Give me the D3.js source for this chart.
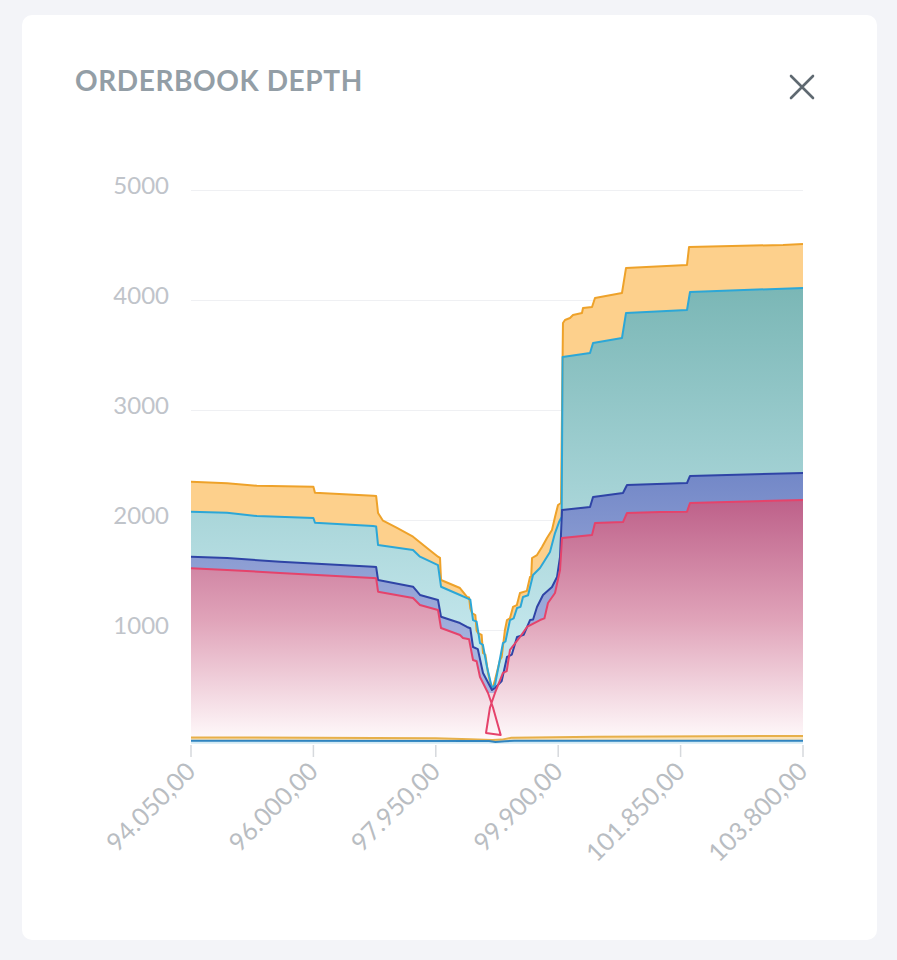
<!DOCTYPE html>
<html><head><meta charset="utf-8">
<script src="https://cdn.jsdelivr.net/npm/d3@7"></script>
<style>
html,body{margin:0;padding:0;background:#f3f4f8;}
svg{display:block;}
</style></head><body>
<svg id="chart" width="897" height="960"></svg>
<script>
const titleText = "ORDERBOOK DEPTH";
const xTicks = [94050, 96000, 97950, 99900, 101850, 103800];
const yTicks = [1000, 2000, 3000, 4000, 5000];

// cumulative depth lines [price, depth]
const orangeLine = [
  [94050,2353],[94625,2338],[95100,2316],[96000,2307],[96025,2253],[96950,2225],[97000,2222],
  [97030,2068],[97109,1998],[97332,1932],[97587,1853],[97810,1750],[97985,1671],[98017,1660],
  [98033,1459],[98335,1386],[98447,1305],[98480,1300],[98500,1200],[98527,1159],[98580,1140],
  [98600,1000],[98622,977],[98680,960],[98702,795],[98740,780],[98782,614],[98845,459],
  [98893,550],[98973,732],[99000,760],[99050,1000],[99084,1095],[99130,1110],[99180,1214],
  [99240,1230],[99291,1341],[99400,1360],[99451,1486],[99470,1490],[99483,1659],
  [99562,1686],[99642,1759],[99721,1841],[99801,1914],[99849,2032],[99897,2141],[99945,2159],
  [99976,3795],[100008,3823],[100088,3841],[100136,3868],[100279,3886],[100295,3932],[100439,3941],
  [100486,4023],[100916,4068],[100980,4295],[101952,4323],[101984,4486],[103482,4505],[103800,4514]
];
const cyanLine = [
  [94050,2080],[94625,2071],[95100,2041],[96000,2023],[96025,1980],[96950,1950],[97000,1945],
  [97030,1777],[97587,1732],[97698,1671],[97985,1595],[98033,1398],[98335,1323],[98447,1295],
  [98500,1280],[98543,1095],[98600,1080],[98654,886],[98700,870],[98766,668],[98845,477],
  [98893,505],[99020,886],[99060,900],[99132,1095],[99190,1110],[99244,1205],[99300,1215],
  [99339,1305],[99420,1320],[99499,1505],[99610,1568],
  [99690,1641],[99769,1714],[99849,1886],[99913,1986],[99955,2032],[99970,3486],[100407,3523],
  [100455,3614],[100916,3659],[100980,3886],[101952,3914],[102000,4077],[103800,4114]
];
const blueLine = [
  [94050,1671],[94625,1659],[95468,1625],[96950,1580],[97000,1577],[97030,1459],[97587,1398],
  [97698,1323],[97985,1277],[98033,1125],[98335,1068],[98447,1032],[98500,1020],[98543,850],
  [98620,830],[98702,614],[98845,459],
  [98893,477],[99000,540],[99084,759],[99160,780],[99244,941],[99350,960],[99451,1095],
  [99500,1100],[99562,1214],[99658,1323],[99801,1395],
  [99881,1486],[99929,1668],[99961,2095],[100407,2123],[100455,2214],[100932,2250],[100996,2323],
  [101952,2341],[102000,2405],[103800,2432]
];
const redLine = [
  [94050,1565],[94625,1550],[95468,1523],[96950,1477],[97000,1475],[97030,1353],[97587,1295],
  [97698,1232],[97985,1186],[98033,1023],[98335,959],[98383,932],[98480,920],[98543,732],
  [98600,720],[98654,577],[98782,432],
  [98861,300],[98984,50],[98750,68],[98813,300],[98893,432],
  [99020,614],[99080,630],[99132,823],[99291,941],[99403,1032],[99610,1095],[99680,1110],
  [99737,1250],[99849,1341],
  [99929,1550],[99961,1841],[100439,1868],[100486,1977],[100932,1986],[100996,2068],[101522,2077],
  [101952,2080],[102000,2159],[103800,2186]
];
// small series hugging the baseline
const orangeLow = [[94050,28],[96000,26],[97950,20],[98500,12],[98850,4],[99000,8],[99150,24],[100500,34],[103800,42]];
const blueLow = [[94050,-3],[98800,-4],[98900,-14],[99050,-6],[99200,-3],[103800,-2]];

const svg = d3.select("#chart");
const defs = svg.append("defs");

// card
svg.append("rect").attr("x",22).attr("y",15).attr("width",855).attr("height",925)
  .attr("rx",10).attr("fill","#ffffff");

svg.append("text").attr("x",75).attr("y",91).text(titleText)
  .attr("font-family","Lato, 'Open Sans', sans-serif").attr("font-weight",700)
  .attr("font-size",28).attr("letter-spacing",0.6).attr("fill","#939ea6");

// close icon
const cx = 802, cy = 87, hs = 11;
svg.append("path").attr("d",`M${cx-hs},${cy-hs}L${cx+hs},${cy+hs}M${cx+hs},${cy-hs}L${cx-hs},${cy+hs}`)
  .attr("stroke","#5f6971").attr("stroke-width",2.6).attr("stroke-linecap","round");

const x = d3.scaleLinear().domain([94050,103800]).range([191,803]);
const y = d3.scaleLinear().domain([-30,5000]).range([743.8,190.5]);

// grid
const g = svg.append("g");
g.selectAll("line.grid").data(yTicks).join("line")
  .attr("x1",x(94050)).attr("x2",x(103800))
  .attr("y1",d=>y(d)).attr("y2",d=>y(d))
  .attr("stroke","#eff0f3").attr("stroke-width",1.2);
g.selectAll("text.ylab").data(yTicks).join("text")
  .attr("x",169).attr("y",d=>y(d)+3.5).attr("text-anchor","end")
  .attr("font-family","Lato, sans-serif").attr("font-size",24).attr("fill","#c0c4ca")
  .text(d=>d);

// gradients
function grad(id, y1, y2, stops){
  const lg = defs.append("linearGradient").attr("id",id).attr("gradientUnits","userSpaceOnUse")
    .attr("x1",0).attr("x2",0).attr("y1",y1).attr("y2",y2);
  stops.forEach(s=>lg.append("stop").attr("offset",s[0]).attr("stop-color",s[1]));
}
grad("gRed", y(2200), y(0), [[0,"#bd6089"],[0.5,"#e0a3b9"],[1,"#fffafb"]]);
grad("gCyan", y(4100), y(900), [[0,"#7bb7b6"],[1,"#c4e7ed"]]);
grad("gBlue", y(2450), y(800), [[0,"#7287c7"],[1,"#a7b4df"]]);

const line = d3.line().x(d=>x(d[0])).y(d=>y(d[1]));
function band(top, bottom){ return line(top.concat(bottom.slice().reverse())) + "Z"; }
// outer envelope of the red line (the crossing loop at the mid price is left out of the fills)
const redEnvelope = redLine.filter(d => d[1] >= 400);

const plot = svg.append("g");
plot.append("path").attr("d", line(redEnvelope.concat([[103800,0],[94050,0]]))+"Z")
  .attr("fill","url(#gRed)");
plot.append("path").attr("d", band(blueLine, redEnvelope)).attr("fill","url(#gBlue)");
plot.append("path").attr("d", band(cyanLine, blueLine)).attr("fill","url(#gCyan)");
plot.append("path").attr("d", band(orangeLine, cyanLine)).attr("fill","#fdd08c");

// low series
plot.append("path").attr("d", band(blueLow, [[94050,-30],[103800,-30]])).attr("fill","#d3eaf4");
plot.append("path").attr("d", band(orangeLow, blueLow)).attr("fill","#fbe3b8");
plot.append("path").attr("d", line(orangeLow)).attr("fill","none").attr("stroke","#e7b04a").attr("stroke-width",2);
plot.append("path").attr("d", line(blueLow)).attr("fill","none").attr("stroke","#2f84c0").attr("stroke-width",2);

const lines = [[orangeLine,"#eea22a"],[cyanLine,"#2ca7d7"],[blueLine,"#2f44a6"],[redLine,"#e5436b"]];
lines.forEach(([data,col])=>{
  plot.append("path").attr("d",line(data)).attr("fill","none").attr("stroke",col)
    .attr("stroke-width",2).attr("stroke-linejoin","round");
});

// x axis
const loc = d3.formatLocale({decimal:",",thousands:".",grouping:[3],currency:["","€"]});
const fmt = loc.format(",.2f");
const xa = svg.append("g").attr("transform","translate(0,745)");
xa.selectAll("line").data(xTicks).join("line")
  .attr("x1",d=>x(d)).attr("x2",d=>x(d)).attr("y1",0).attr("y2",12)
  .attr("stroke","#d6d9dd").attr("stroke-width",1.5);
xa.selectAll("text").data(xTicks).join("text")
  .attr("transform",d=>`translate(${x(d)+6},28) rotate(-45)`)
  .attr("text-anchor","end").attr("font-family","Lato, sans-serif").attr("font-size",25)
  .attr("fill","#b9bdc2").text(d=>fmt(d));
</script>
</body></html>
